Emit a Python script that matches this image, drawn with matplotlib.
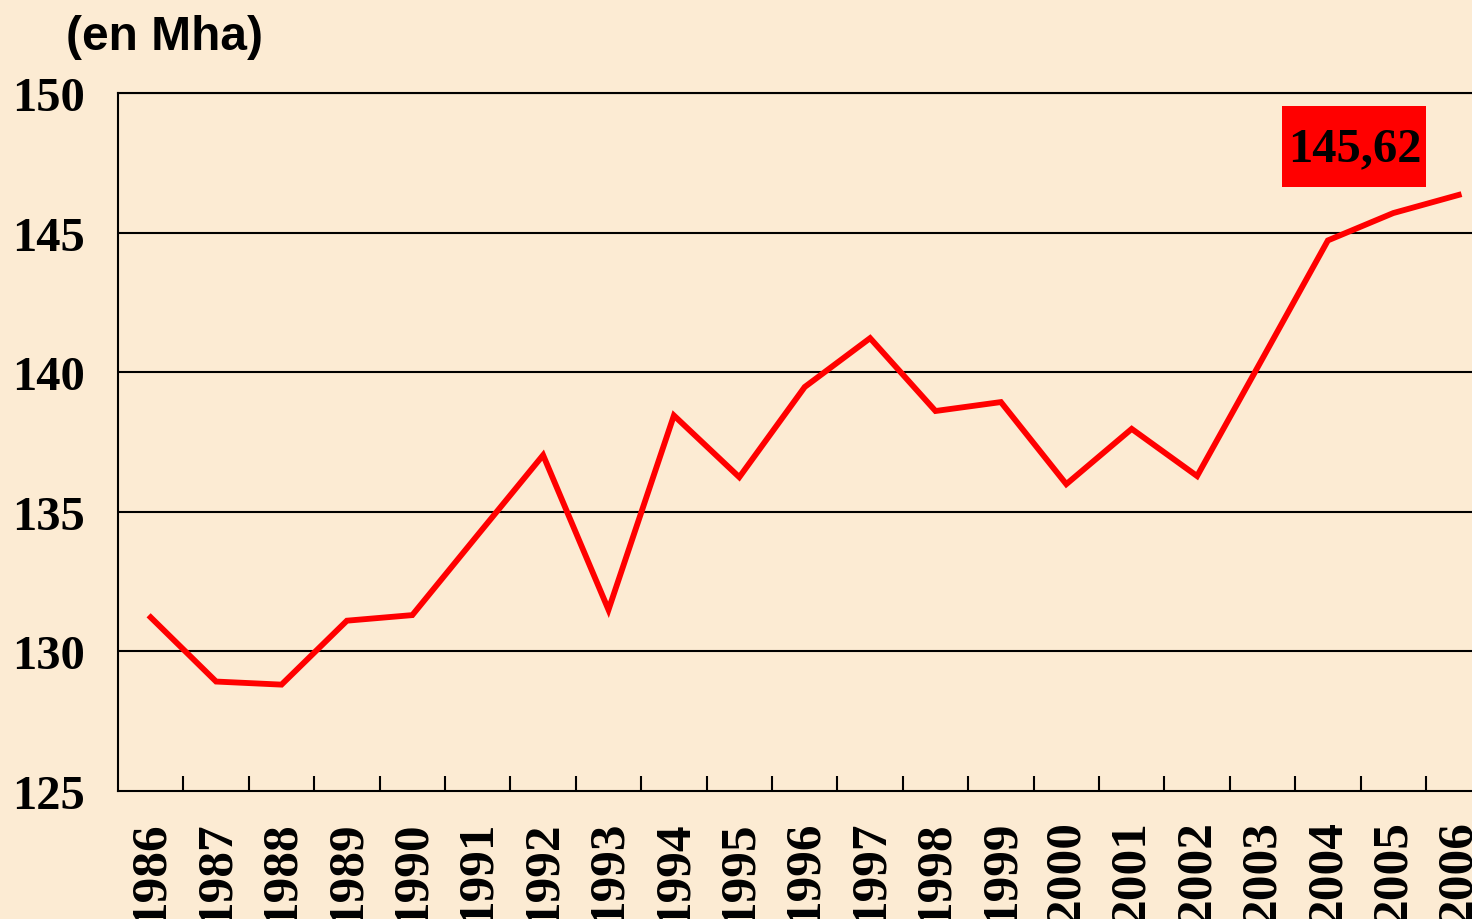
import matplotlib
matplotlib.use("Agg")
import matplotlib.pyplot as plt
from matplotlib.patches import Rectangle

# surface values (en Mha)
years = [str(y) for y in range(1986, 2007)]
surface = [131.22, 128.92, 128.81, 131.10, 131.30, 134.17, 137.03, 131.49,
           138.45, 136.24, 139.47, 141.22, 138.61, 138.93, 135.99, 137.97,
           136.28, 140.49, 144.72, 145.70, 146.35]
y_ticks = [125, 130, 135, 140, 145, 150]
last_label = "145,62"

BG = "#FCEBD3"
W, H = 1472, 920

fig = plt.figure(figsize=(W / 100, H / 100), dpi=100, facecolor=BG)
# plot area: left 118px, top 94px, bottom 792px, 65.4px per year (runs past right edge)
ax = fig.add_axes([118 / W, (H - 792) / H, 65.4 * len(years) / W, 698 / H])
ax.set_facecolor(BG)

x = list(range(len(years)))
ax.plot(x, surface, color="#FF0000", lw=4.2, solid_joinstyle="miter", zorder=3)

ax.set_xlim(-0.5, len(years) - 0.5)
ax.set_ylim(125, 150)

for v in y_ticks[1:]:
    ax.axhline(v, color="black", lw=1.5, zorder=1)

ax.set_yticks(y_ticks)
ax.set_yticklabels([str(v) for v in y_ticks], family="Liberation Serif",
                   fontweight="bold", fontsize=35)
ax.tick_params(axis="y", length=0, pad=24)

# category ticks between years, labels centred on years
ax.set_xticks([i + 0.5 for i in x[:-1]])
ax.set_xticklabels([])
ax.tick_params(axis="x", direction="in", length=11, width=1.5, color="black")
for i, yr in zip(x, years):
    ax.text(i, 125 - 1.0, yr, rotation=90, ha="center", va="top",
            family="Liberation Serif", fontweight="bold", fontsize=37,
            clip_on=False)

for s in ["left", "bottom", "top"]:
    ax.spines[s].set_linewidth(1.5)
    ax.spines[s].set_color("black")
ax.spines["right"].set_visible(False)

# red label box for the last value
fig.patches.append(Rectangle((1282 / W, 1 - 188 / H), 144 / W, 81 / H,
                             transform=fig.transFigure, facecolor="#FF0000",
                             edgecolor="none", zorder=4))
fig.text(1355 / W, 1 - 149 / H, last_label, ha="center", va="center",
         family="Liberation Serif", fontweight="bold", fontsize=35, zorder=5)

fig.text(66 / W, 1 - 37 / H, "(en Mha)", ha="left", va="center",
         family="Liberation Sans", fontweight="bold", fontsize=34.5)

fig.savefig("out.png", dpi=100, facecolor=BG)
